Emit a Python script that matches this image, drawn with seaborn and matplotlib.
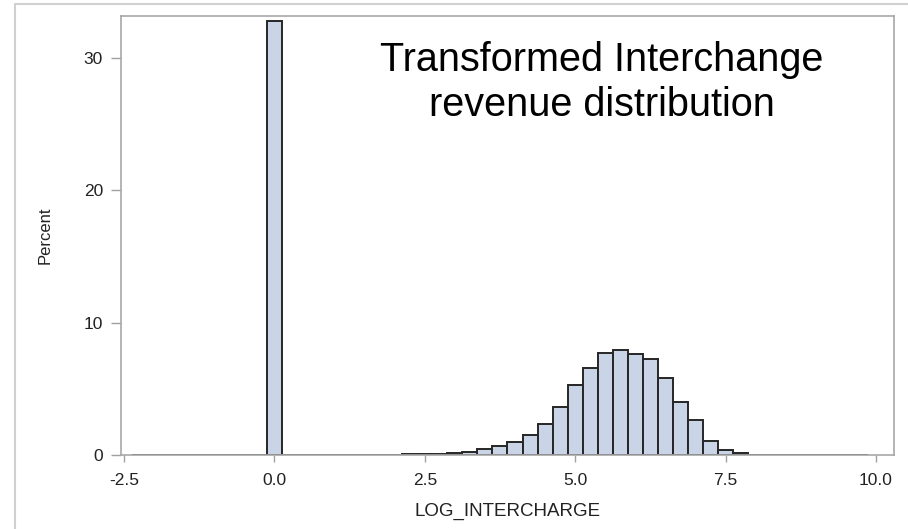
import numpy as np
import pandas as pd
import seaborn as sns
import matplotlib
matplotlib.use("Agg")
import matplotlib.pyplot as plt
from matplotlib.patches import Rectangle

# Histogram of log-transformed interchange revenue, bin width 0.25
bin_width = 0.25
bin_centers = [
    -2.25, -2.0, -1.75, -1.5, -1.25, -1.0, -0.75, -0.5, -0.25, 0.0,
    0.25, 0.5, 0.75, 1.0, 1.25, 1.5, 1.75, 2.0, 2.25, 2.5,
    2.75, 3.0, 3.25, 3.5, 3.75, 4.0, 4.25, 4.5, 4.75, 5.0,
    5.25, 5.5, 5.75, 6.0, 6.25, 6.5, 6.75, 7.0, 7.25, 7.5,
    7.75, 8.0, 8.25, 8.5, 8.75, 9.0, 9.25, 9.5, 9.75,
]
percent = [
    0.0, 0.0, 0.0, 0.0, 0.0, 0.0, 0.0, 0.0, 0.0, 32.8,
    0.0, 0.0, 0.0, 0.0, 0.0, 0.0, 0.0, 0.01, 0.02, 0.03,
    0.05, 0.1, 0.2, 0.42, 0.65, 1.0, 1.46, 2.3, 3.6, 5.3,
    6.6, 7.7, 7.9, 7.6, 7.25, 5.8, 3.96, 2.6, 1.06, 0.33,
    0.1, 0.0, 0.0, 0.0, 0.0, 0.0, 0.0, 0.0, 0.0,
]
x_ticks = [-2.5, 0.0, 2.5, 5.0, 7.5, 10.0]
x_tick_labels = ["-2.5", "0.0", "2.5", "5.0", "7.5", "10.0"]
y_ticks = [0, 10, 20, 30]
title_lines = ["Transformed Interchange", "revenue distribution"]

df = pd.DataFrame({"LOG_INTERCHARGE": bin_centers, "Percent": percent})
bin_range = (bin_centers[0] - bin_width / 2, bin_centers[-1] + bin_width / 2)

sns.set_theme(style="white")
plt.rcParams["font.family"] = ["Liberation Sans", "DejaVu Sans"]

fig = plt.figure(figsize=(9.08, 5.29), dpi=100)
fig.patch.set_facecolor("white")
# light outer frame of the graph area
fig.patches.append(Rectangle((15 / 908, -0.01), 1.0, 1 - 4 / 529 + 0.01,
                             transform=fig.transFigure, fill=False,
                             edgecolor="#d0d0d0", linewidth=1.5))

ax = fig.add_axes([121 / 908, 1 - 455 / 529, 773 / 908, 439 / 529])
sns.histplot(data=df, x="LOG_INTERCHARGE", weights="Percent",
             binwidth=bin_width, binrange=bin_range,
             stat="count", color="#c9d5e6", alpha=1.0,
             edgecolor="#262626", linewidth=1.4, ax=ax)

ax.set_xlim(-2.55, 10.3)
ax.set_ylim(-0.02, 33.2)
ax.set_xticks(x_ticks)
ax.set_xticklabels(x_tick_labels)
ax.set_yticks(y_ticks)
ax.tick_params(axis="x", which="major", direction="out", length=5,
               width=1, color="#a0a0a0", labelsize=12.5, labelcolor="#222222",
               bottom=True, pad=8)
ax.tick_params(axis="y", which="major", direction="out", length=7,
               width=1, color="#a0a0a0", labelsize=12.5, labelcolor="#222222",
               left=True, pad=6)
for side in ["left", "right", "top", "bottom"]:
    ax.spines[side].set_visible(True)
    ax.spines[side].set_color("#a8a8a8")
    ax.spines[side].set_linewidth(1.2)

ax.set_xlabel("LOG_INTERCHARGE", fontsize=13.5, color="#222222")
ax.set_ylabel("Percent", fontsize=12, color="#222222")
ax.xaxis.set_label_coords(0.5, -0.108)
ax.yaxis.set_label_coords(-0.088, 0.5)

ax.text(0.622, 0.848, "\n".join(title_lines), transform=ax.transAxes,
        ha="center", va="center", fontsize=28.5, color="black",
        linespacing=1.25)

fig.savefig("out.png", dpi=100)
